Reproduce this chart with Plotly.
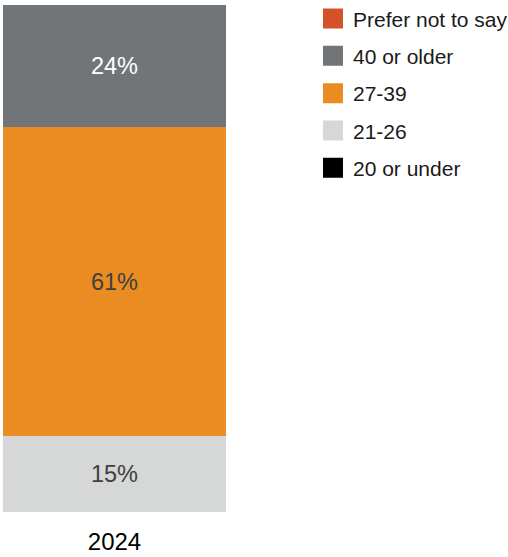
import plotly.graph_objects as go

# Age distribution of respondents, single year
years = ["2024"]
groups = ["20 or under", "21-26", "27-39", "40 or older", "Prefer not to say"]
shares = [0, 15, 61, 24, 0]
colors = ["#000000", "#D6D8D7", "#EB8C23", "#727578", "#D4522A"]
label_colors = ["#404040", "#404040", "#404040", "#FFFFFF", "#FFFFFF"]

FONT = "Liberation Sans, Arial, sans-serif"

fig = go.Figure()

# Stacked bar segments, labelled with their share
for name, val, col, lc in zip(groups, shares, colors, label_colors):
    fig.add_trace(go.Bar(
        x=years,
        y=[val],
        name=name,
        marker=dict(color=col, line=dict(width=0)),
        width=1,
        text=[f"{val}%" if val > 0 else ""],
        textposition="inside",
        insidetextanchor="middle",
        textangle=0,
        textfont=dict(family=FONT, size=23.5, color=lc),
        hoverinfo="skip",
        showlegend=False,
        legendgroup=name,
    ))

# Square legend entries, top to bottom
for name, col in reversed(list(zip(groups, colors))):
    fig.add_trace(go.Scatter(
        x=[None],
        y=[None],
        mode="markers",
        name=name,
        marker=dict(symbol="square", size=16, color=col, line=dict(color=col, width=4)),
        legendgroup=name,
        showlegend=True,
    ))

fig.update_layout(
    width=508,
    height=557,
    margin=dict(l=3, r=282, t=5, b=45, autoexpand=False),
    barmode="stack",
    bargap=0,
    plot_bgcolor="white",
    paper_bgcolor="white",
    font=dict(family=FONT, color="#1A1A1A"),
    legend=dict(
        x=1.39,
        y=1.013,
        xanchor="left",
        yanchor="top",
        traceorder="grouped",
        tracegroupgap=7,
        font=dict(family=FONT, size=21, color="#1A1A1A"),
        itemclick=False,
        itemdoubleclick=False,
    ),
    xaxis=dict(
        type="category",
        range=[-0.5, 0.5],
        showgrid=False,
        showline=False,
        zeroline=False,
        ticks="",
        ticklabelstandoff=13,
        tickfont=dict(family=FONT, size=24, color="#000000"),
    ),
    yaxis=dict(
        range=[0, 100],
        visible=False,
        showgrid=False,
        zeroline=False,
    ),
)

fig.write_html("out.html")
